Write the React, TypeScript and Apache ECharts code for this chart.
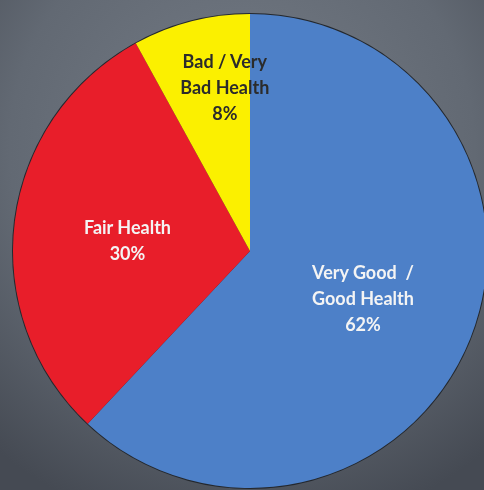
import React, { useEffect, useRef } from "react";
import * as echarts from "echarts";

const categories = ["Very Good  /\nGood Health", "Fair Health", "Bad / Very\nBad Health"];
const values = [62, 30, 8];
const sliceColors = ["#4d80c8", "#e81e2a", "#fbf000"];
const labelColors = ["#f4f4f4", "#f4f4f4", "#2b2b2b"];
const labelOffsets = [[0, 2], [-2, 4], [5, -46]];

export default function App() {
  const ref = useRef<HTMLDivElement>(null);
  useEffect(() => {
    if (!ref.current) return;
    const chart = echarts.init(ref.current, undefined, { renderer: "svg" });
    chart.setOption({
      animation: false,
      backgroundColor: {
        type: "radial",
        x: 0.5,
        y: 0.3,
        r: 0.8,
        colorStops: [
          { offset: 0, color: "#757c86" },
          { offset: 0.6, color: "#626973" },
          { offset: 1, color: "#454a53" },
        ],
      },
      graphic: [
        {
          type: "circle",
          z: 0,
          shape: { cx: 250, cy: 251, r: 238 },
          style: { fill: "#24282e" },
        },
      ],
      series: [
        {
          type: "pie",
          z: 2,
          center: [250, 251],
          radius: 237,
          startAngle: 90,
          clockwise: true,
          silent: true,
          itemStyle: { borderWidth: 0 },
          labelLine: { show: false },
          data: categories.map((name, i) => ({
            name,
            value: values[i],
            itemStyle: { color: sliceColors[i] },
            label: {
              show: true,
              position: "inside",
              offset: labelOffsets[i],
              formatter: "{b}\n{c}%",
              color: labelColors[i],
              fontFamily: "Lato",
              fontWeight: "bold",
              fontSize: 18,
              lineHeight: 26,
              align: "center",
            },
          })),
        },
      ],
    });
    return () => chart.dispose();
  }, []);
  return (
    <div
      ref={ref}
      style={{ position: "fixed", left: 0, top: 0, width: 484, height: 490 }}
    />
  );
}
